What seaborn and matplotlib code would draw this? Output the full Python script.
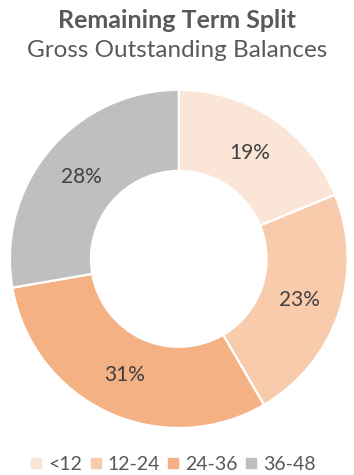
import matplotlib
matplotlib.use("Agg")
import matplotlib.pyplot as plt
from matplotlib.lines import Line2D
import seaborn as sns

sns.set_theme(style="white")
plt.rcParams["font.family"] = ["Lato", "DejaVu Sans"]

# Remaining term buckets (months) and their share of gross outstanding balances
categories = ["<12", "12-24", "24-36", "36-48"]
shares = [19, 23, 31, 28]
colors = ["#FBE5D6", "#F8CBAD", "#F4B183", "#BFBFBF"]

title = "Remaining Term Split"
subtitle = "Gross Outstanding Balances"

fig = plt.figure(figsize=(3.54, 4.75), dpi=100)
fig.patch.set_facecolor("white")

ax = fig.add_axes([0.028, 0.099, 0.954, 0.712])
wedges, texts, autotexts = ax.pie(
    shares,
    colors=colors,
    startangle=90,
    counterclock=False,
    autopct="%.0f%%",
    pctdistance=0.755,
    radius=1.0,
    wedgeprops=dict(width=0.48, edgecolor="white", linewidth=1.6),
    textprops=dict(color="#404040", fontsize=15),
)
ax.set_xlim(-1, 1)
ax.set_ylim(-1, 1)
ax.set_aspect("auto")
ax.axis("off")

fig.text(0.5, 0.941, title, ha="center", va="baseline",
         fontsize=18, fontweight="bold", color="#595959")
fig.text(0.5, 0.880, subtitle, ha="center", va="baseline",
         fontsize=17.5, color="#595959")

handles = [Line2D([0], [0], marker="s", linestyle="", markersize=6.5,
                  markerfacecolor=c, markeredgecolor=c) for c in colors]
fig.legend(handles, categories, loc="center", bbox_to_anchor=(0.49, 0.022),
           ncol=4, frameon=False, fontsize=14, handlelength=0.5,
           handletextpad=0.35, columnspacing=0.45, labelcolor="#595959",
           borderpad=0.0)

fig.savefig("out.png", dpi=100, facecolor="white")
